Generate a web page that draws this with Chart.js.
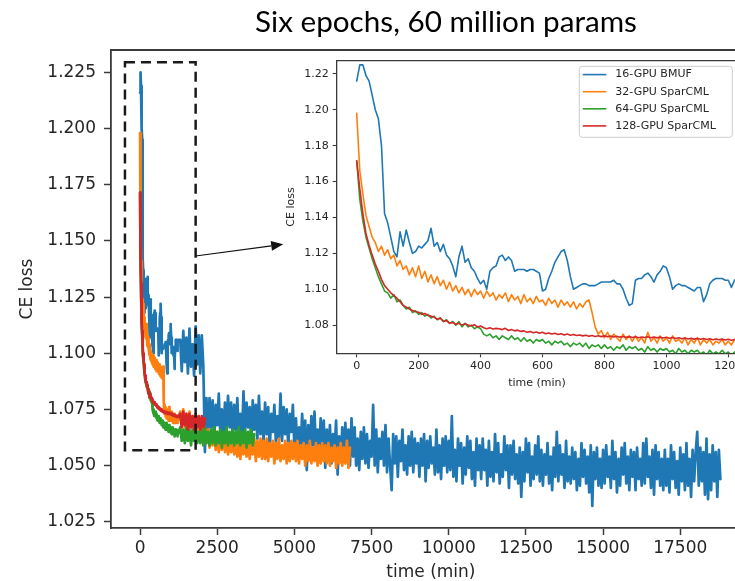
<!DOCTYPE html>
<html><head><meta charset="utf-8">
<script src="https://cdn.jsdelivr.net/npm/chart.js@4.4.1/dist/chart.umd.min.js"></script>
<style>
html,body{margin:0;padding:0;background:#fff;overflow:hidden;width:735px;height:581px;}
#main{position:absolute;left:0;top:0;}
#inset{position:absolute;left:280px;top:50px;}
</style></head><body>
<canvas id="main" width="780" height="581" style="width:780px;height:581px"></canvas>
<canvas id="inset" width="470" height="350" style="width:470px;height:350px"></canvas>
<script>
// ---------------- data ----------------
const titleText = 'Six epochs, 60 million params';
const seriesNames = ['16-GPU BMUF', '32-GPU SparCML', '64-GPU SparCML', '128-GPU SparCML'];
const seriesColors = ['#1f77b4', '#ff7f0e', '#2ca02c', '#d62728'];

// 16-GPU BMUF: t = 0,10,...,1230 min
const blueEarly = [
1.216,1.225,1.225,1.219,1.216,1.208,1.200,1.195,1.180,1.142,
1.137,1.129,1.121,1.118,1.132,1.124,1.133,1.126,1.120,1.121,
1.124,1.123,1.125,1.127,1.134,1.124,1.126,1.121,1.125,1.119,
1.117,1.113,1.107,1.118,1.124,1.115,1.117,1.112,1.110,1.106,
1.103,1.105,1.100,1.110,1.112,1.113,1.118,1.119,1.116,1.118,
1.116,1.110,1.111,1.111,1.111,1.110,1.111,1.111,1.110,1.109,
1.099,1.100,1.106,1.110,1.115,1.118,1.121,1.122,1.116,1.107,
1.100,1.101,1.102,1.103,1.103,1.102,1.102,1.102,1.103,1.104,
1.104,1.104,1.104,1.105,1.103,1.103,1.100,1.095,1.091,1.092,
1.105,1.106,1.106,1.108,1.109,1.107,1.104,1.108,1.110,1.113,
1.112,1.107,1.100,1.102,1.103,1.102,1.102,1.101,1.100,1.099,
1.101,1.101,1.093,1.097,1.103,1.105,1.106,1.106,1.106,1.105,
1.105,1.101,1.105,1.106
];
// 16-GPU BMUF: t = 1300,1350,...,18800 min
const blueLate = [
1.106,1.092,1.110,1.096,1.107,1.091,1.111,1.094,1.104,1.090,1.112,1.095,1.108,1.091,
1.108,1.094,1.056,1.080,1.064,1.080,1.067,1.079,1.061,1.077,1.068,1.082,1.063,1.075,1.062,1.078,1.066,1.081,1.067,1.078,
1.062,1.077,1.066,1.080,1.063,1.073,1.061,1.083,1.065,1.078,1.067,1.076,1.060,1.079,1.066,1.077,1.062,1.081,1.064,1.074,
1.061,1.078,1.064,1.076,1.057,1.073,1.065,1.077,1.060,1.072,1.062,1.082,1.061,1.076,1.064,1.075,1.058,1.073,1.065,1.077,
1.057,1.071,1.054,1.067,1.056,1.073,1.060,1.070,1.048,1.068,1.055,1.072,1.059,1.074,1.056,1.066,1.053,1.071,1.058,1.070,
1.049,1.066,1.055,1.068,1.051,1.064,1.056,1.070,1.046,1.063,1.052,1.067,1.054,1.069,1.055,1.066,1.050,1.071,1.054,1.067,
1.050,1.062,1.048,1.065,1.053,1.067,1.051,1.064,1.049,1.061,1.054,1.077,1.050,1.066,1.047,1.062,1.053,1.065,1.050,1.068,
1.047,1.062,1.050,1.039,1.064,1.051,1.063,1.045,1.061,1.052,1.066,1.048,1.059,1.046,1.063,1.050,1.065,1.047,1.062,1.051,
1.060,1.045,1.062,1.050,1.064,1.043,1.061,1.049,1.063,1.051,1.058,1.046,1.066,1.047,1.059,1.044,1.062,1.050,1.063,1.047,
1.061,1.048,1.072,1.045,1.057,1.043,1.062,1.050,1.060,1.042,1.058,1.046,1.063,1.049,1.061,1.044,1.056,1.041,1.062,1.048,
1.059,1.044,1.062,1.048,1.057,1.041,1.061,1.045,1.056,1.043,1.064,1.047,1.060,1.042,1.055,1.045,1.063,1.048,1.059,1.040,
1.059,1.046,1.061,1.044,1.055,1.042,1.058,1.036,1.056,1.043,1.062,1.047,1.060,1.041,1.054,1.044,1.059,1.046,1.063,1.043,
1.057,1.041,1.055,1.046,1.060,1.042,1.054,1.039,1.058,1.045,1.065,1.043,1.059,1.046,1.055,1.040,1.061,1.043,1.054,1.042,
1.058,1.044,1.056,1.039,1.053,1.041,1.060,1.045,1.057,1.042,1.054,1.038,1.059,1.032,1.056,1.044,1.058,1.041,1.053,1.040,
1.057,1.042,1.059,1.045,1.054,1.040,1.061,1.044,1.056,1.038,1.053,1.041,1.058,1.046,1.060,1.042,1.054,1.039,1.057,1.045,
1.056,1.039,1.058,1.044,1.053,1.041,1.060,1.042,1.062,1.045,1.054,1.040,1.057,1.037,1.059,1.044,1.056,1.041,1.053,1.039,
1.057,1.041,1.053,1.038,1.059,1.044,1.056,1.040,1.052,1.037,1.058,1.043,1.055,1.039,1.060,1.041,1.053,1.036,1.057,1.043,
1.056,1.065,1.041,1.058,1.043,1.056,1.037,1.062,1.035,1.055,1.039,1.059,1.043,1.056,1.036,1.057,1.044
];
// 32-GPU SparCML: t = 0,10,...,1230 min
const orangeEarly = [
1.198,1.166,1.153,1.141,1.135,1.129,1.126,1.121,1.124,1.119,
1.122,1.117,1.119,1.113,1.116,1.111,1.113,1.108,1.112,1.107,
1.113,1.106,1.110,1.104,1.108,1.103,1.107,1.102,1.105,1.100,
1.104,1.099,1.102,1.098,1.101,1.097,1.100,1.096,1.100,1.097,
1.099,1.095,1.099,1.096,1.098,1.094,1.097,1.095,1.098,1.093,
1.097,1.094,1.096,1.092,1.097,1.093,1.095,1.092,1.096,1.093,
1.094,1.091,1.095,1.092,1.094,1.090,1.094,1.091,1.093,1.090,
1.093,1.089,1.092,1.090,1.093,1.094,1.087,1.079,1.075,1.077,
1.073,1.076,1.072,1.075,1.073,1.071,1.075,1.072,1.074,1.071,
1.074,1.071,1.073,1.070,1.076,1.071,1.073,1.070,1.074,1.071,
1.073,1.070,1.074,1.071,1.072,1.070,1.073,1.069,1.072,1.070,
1.073,1.069,1.072,1.070,1.072,1.069,1.071,1.070,1.072,1.069,
1.071,1.069,1.072,1.070
];
// 32-GPU SparCML: t = 1300,1350,...,6800 min
const orangeLate = [
1.074,1.068,1.075,1.067,1.073,1.066,1.074,1.067,1.072,1.065,1.071,1.064,1.070,1.063,
1.068,1.061,1.067,1.060,1.066,1.058,1.065,1.059,1.064,1.057,1.065,1.056,1.064,1.057,1.063,1.056,1.064,1.055,1.063,1.056,
1.062,1.055,1.063,1.054,1.061,1.053,1.062,1.055,1.061,1.054,1.063,1.053,1.061,1.055,1.062,1.052,1.061,1.054,1.062,1.053,
1.061,1.053,1.062,1.052,1.060,1.054,1.061,1.051,1.060,1.053,1.062,1.052,1.059,1.053,1.061,1.051,1.060,1.052,1.061,1.053,
1.060,1.052,1.061,1.051,1.059,1.053,1.060,1.050,1.059,1.052,1.061,1.051,1.058,1.052,1.060,1.050,1.059,1.051,1.060,1.052,
1.059,1.051,1.060,1.050,1.058,1.052,1.059,1.049,1.058,1.051,1.060,1.050,1.058,1.051,1.061,1.049,1.058
];
// 64-GPU SparCML: t = 0,10,...,1230 min
const greenEarly = [
1.1715,1.150,1.138,1.129,1.123,1.117,1.112,1.107,1.103,1.099,
1.098,1.095,1.097,1.093,1.094,1.091,1.089,1.090,1.087,1.088,
1.086,1.087,1.085,1.086,1.084,1.085,1.083,1.084,1.082,1.083,
1.081,1.082,1.080,1.082,1.079,1.081,1.079,1.080,1.078,1.079,
1.078,1.075,1.074,1.075,1.073,1.074,1.072,1.074,1.073,1.072,
1.074,1.072,1.073,1.071,1.073,1.071,1.072,1.070,1.072,1.071,
1.072,1.070,1.071,1.069,1.071,1.070,1.071,1.069,1.070,1.068,
1.070,1.069,1.070,1.068,1.070,1.067,1.069,1.068,1.069,1.067,
1.069,1.067,1.068,1.066,1.068,1.067,1.069,1.066,1.068,1.067,
1.068,1.066,1.067,1.065,1.068,1.066,1.067,1.065,1.067,1.066,
1.067,1.065,1.066,1.064,1.067,1.065,1.066,1.064,1.066,1.065,
1.066,1.064,1.065,1.063,1.066,1.064,1.065,1.064,1.066,1.064,
1.065,1.063,1.065,1.064
];
// 64-GPU SparCML: t = 1300,1350,...,3700 min
const greenLate = [
1.067,1.061,1.066,1.060,1.067,1.061,1.066,1.059,1.066,1.061,1.067,1.060,1.065,1.060,
1.066,1.059,1.067,1.060,1.065,1.059,1.066,1.060,1.067,1.059,1.065,1.060,1.066,1.058,1.065,1.060,1.067,1.059,1.065,1.060,
1.066,1.059,1.065,1.060,1.067,1.059,1.065,1.060,1.066,1.058,1.065,1.060,1.066,1.059,1.064
];
// 128-GPU SparCML: t = 0,10,...,1230 min
const redEarly = [
1.1715,1.156,1.142,1.131,1.1245,1.119,1.114,1.110,1.1055,1.102,
1.100,1.098,1.0965,1.095,1.093,1.091,1.090,1.089,1.0882,1.0875,
1.0872,1.086,1.0865,1.0854,1.085,1.0845,1.0832,1.084,1.082,1.0825,
1.081,1.0815,1.0805,1.081,1.080,1.0808,1.080,1.0795,1.0802,1.079,
1.0795,1.0785,1.078,1.0785,1.0778,1.0782,1.078,1.0775,1.0782,1.077,
1.0775,1.0768,1.0772,1.0765,1.0768,1.076,1.0765,1.0758,1.0762,1.0755,
1.076,1.0752,1.0756,1.075,1.0755,1.0748,1.0752,1.0745,1.075,1.0744,
1.0748,1.0742,1.0745,1.074,1.0744,1.0738,1.0742,1.0737,1.0741,1.0736,
1.074,1.0735,1.0739,1.0734,1.0738,1.0733,1.0737,1.0732,1.0736,1.0731,
1.0735,1.073,1.0734,1.0731,1.0735,1.073,1.0734,1.0729,1.0733,1.0728,
1.0732,1.0727,1.0731,1.0726,1.073,1.0724,1.0728,1.0723,1.0727,1.0722,
1.0726,1.0721,1.0725,1.072,1.0724,1.0719,1.0723,1.0718,1.0722,1.0717,
1.0721,1.0716,1.072,1.0717
];
// 128-GPU SparCML: t = 1300,1350,...,2100 min
const redLate = [1.073,1.067,1.074,1.068,1.073,1.066,1.073,1.067,1.072,1.066,1.073,1.067,1.072,1.066,1.072,1.067,1.071];

// sampling grid of each logged segment: [start time, interval]
const earlyGrid = [0, 10];
const lateGrid = [1300, 50];

// axes
const mainXTicks = [0, 2500, 5000, 7500, 10000, 12500, 15000, 17500];
const mainYTicks = [1.025, 1.050, 1.075, 1.100, 1.125, 1.150, 1.175, 1.200, 1.225];
const mainXRange = [-942, 19785];
const mainYRange = [1.0222, 1.2350];
const insetXTicks = [0, 200, 400, 600, 800, 1000, 1200];
const insetYTicks = [1.08, 1.10, 1.12, 1.14, 1.16, 1.18, 1.20, 1.22];
const insetXRange = [-64.6, 1229];
const insetYRange = [1.0643, 1.2274];

// annotations (data units of the main axes)
const zoomBox = [-490, 1800, 1.0568, 1.2295];   // x0, x1, y0, y1
const arrowFrom = [1800, 1.1433];
const arrowTo = [4637, 1.1485];

// ---------------- build ----------------
function toPoints(early, late) {
  const pts = [];
  early.forEach((v, i) => pts.push({ x: earlyGrid[0] + i * earlyGrid[1], y: v }));
  late.forEach((v, i) => pts.push({ x: lateGrid[0] + i * lateGrid[1], y: v }));
  return pts;
}
const seriesPoints = [
  toPoints(blueEarly, blueLate),
  toPoints(orangeEarly, orangeLate),
  toPoints(greenEarly, greenLate),
  toPoints(redEarly, redLate)
];

Chart.defaults.font.family = "'DejaVu Sans', sans-serif";
Chart.defaults.color = '#262626';
const AX = '#3a3a3a';
const TXT = '#262626';

function datasets(width) {
  return seriesPoints.map((pts, i) => ({
    label: seriesNames[i], data: pts, borderColor: seriesColors[i], backgroundColor: seriesColors[i],
    borderWidth: width, pointRadius: 0, tension: 0, fill: false, order: 4 - i,
    borderJoinStyle: 'round', borderCapStyle: 'round'
  }));
}

function scale(range, ticks, fmt, o) {
  return {
    type: 'linear', min: range[0], max: range[1],
    afterBuildTicks: s => { s.ticks = ticks.map(v => ({ value: v })); },
    afterFit: o.fit,
    ticks: { font: { size: o.fs }, color: TXT, padding: o.pad, maxRotation: 0, autoSkip: false, callback: fmt },
    grid: { display: true, drawOnChartArea: false, drawTicks: true, tickLength: o.tl, tickWidth: o.tw, tickColor: AX },
    border: { display: true, color: AX, width: o.bw },
    title: { display: true, text: o.title, font: { size: o.fs, lineHeight: o.tlh }, color: TXT, padding: o.tpad }
  };
}

const mainDecor = {
  id: 'mainDecor',
  afterDraw(chart) {
    const { ctx, chartArea: a, scales: { x, y } } = chart;
    ctx.save();
    ctx.strokeStyle = AX; ctx.lineWidth = 1.8;
    ctx.beginPath(); ctx.moveTo(a.left, a.top); ctx.lineTo(a.right, a.top); ctx.lineTo(a.right, a.bottom); ctx.stroke();
    const bx0 = x.getPixelForValue(zoomBox[0]), bx1 = x.getPixelForValue(zoomBox[1]);
    const by0 = y.getPixelForValue(zoomBox[2]), by1 = y.getPixelForValue(zoomBox[3]);
    ctx.strokeStyle = '#1a1a1a'; ctx.lineWidth = 2.5; ctx.setLineDash([10, 6]);
    ctx.strokeRect(bx0, by1, bx1 - bx0, by0 - by1);
    ctx.setLineDash([]);
    const ax0 = x.getPixelForValue(arrowFrom[0]), ay0 = y.getPixelForValue(arrowFrom[1]);
    const ax1 = x.getPixelForValue(arrowTo[0]), ay1 = y.getPixelForValue(arrowTo[1]);
    const ang = Math.atan2(ay1 - ay0, ax1 - ax0), hl = 12, hw = 5;
    const bxp = ax1 - hl * Math.cos(ang), byp = ay1 - hl * Math.sin(ang);
    ctx.strokeStyle = '#111'; ctx.fillStyle = '#111'; ctx.lineWidth = 1.2;
    ctx.beginPath(); ctx.moveTo(ax0, ay0); ctx.lineTo(bxp, byp); ctx.stroke();
    ctx.beginPath(); ctx.moveTo(ax1, ay1);
    ctx.lineTo(bxp + hw * Math.sin(ang), byp - hw * Math.cos(ang));
    ctx.lineTo(bxp - hw * Math.sin(ang), byp + hw * Math.cos(ang));
    ctx.closePath(); ctx.fill();
    const fam = "Lato, 'Open Sans', sans-serif";
    ctx.font = `28px ${fam}`;
    const w = ctx.measureText(titleText).width;
    const fs = 28 * 382 / w;
    ctx.font = `${fs}px ${fam}`;
    ctx.fillStyle = '#000'; ctx.textAlign = 'center'; ctx.textBaseline = 'alphabetic';
    ctx.fillText(titleText, 446, 32);
    ctx.restore();
  }
};

const insetDecor = {
  id: 'insetDecor',
  afterDraw(chart) {
    const { ctx, chartArea: a } = chart;
    ctx.save();
    ctx.strokeStyle = AX; ctx.lineWidth = 1.3;
    ctx.beginPath(); ctx.moveTo(a.left, a.top); ctx.lineTo(a.right, a.top); ctx.lineTo(a.right, a.bottom); ctx.stroke();
    const bw = 153, bh = 71, right = a.right - 5, top = a.top + 5.7, left = right - bw;
    ctx.fillStyle = 'rgba(255,255,255,0.85)'; ctx.strokeStyle = '#cccccc'; ctx.lineWidth = 1;
    ctx.beginPath(); ctx.roundRect(left, top, bw, bh, 3); ctx.fill(); ctx.stroke();
    ctx.font = "11px 'DejaVu Sans'"; ctx.textBaseline = 'middle'; ctx.textAlign = 'left';
    chart.data.datasets.forEach((d, i) => {
      const yy = top + 8.3 + i * 17.1;
      ctx.strokeStyle = d.borderColor; ctx.lineWidth = 1.6;
      ctx.beginPath(); ctx.moveTo(left + 3.5, yy); ctx.lineTo(left + 27, yy); ctx.stroke();
      ctx.fillStyle = TXT; ctx.fillText(d.label, left + 36, yy);
    });
    ctx.restore();
  }
};

new Chart(document.getElementById('main'), {
  type: 'line',
  data: { datasets: datasets(2.7) },
  options: {
    responsive: false, animation: false, devicePixelRatio: 1,
    layout: { padding: { top: 50, right: 780 - 750.8, left: 0, bottom: 0 } },
    plugins: { legend: { display: false }, tooltip: { enabled: false } },
    scales: {
      x: scale(mainXRange, mainXTicks, v => String(v),
        { fit: s => { s.height = 53; }, fs: 17, pad: 3, tl: 7, tw: 1.5, bw: 1.8, title: 'time (min)', tlh: 1.0, tpad: { top: 0, bottom: 0 } }),
      y: scale(mainYRange, mainYTicks, v => v.toFixed(3),
        { fit: s => { s.width = 111; }, fs: 17, pad: 8, tl: 7, tw: 1.5, bw: 1.8, title: 'CE loss', tlh: 1.2, tpad: { top: 17, bottom: 0 } })
    }
  },
  plugins: [mainDecor]
});

new Chart(document.getElementById('inset'), {
  type: 'line',
  data: { datasets: datasets(1.6) },
  options: {
    responsive: false, animation: false, devicePixelRatio: 1,
    layout: { padding: { top: 9.3, right: 470 - 457.3, left: 0, bottom: 0 } },
    plugins: { legend: { display: false }, tooltip: { enabled: false } },
    scales: {
      x: scale(insetXRange, insetXTicks, v => String(v),
        { fit: s => { s.height = 46.7; }, fs: 11, pad: 2, tl: 4, tw: 1.1, bw: 1.3, title: 'time (min)', tlh: 1.2, tpad: { top: 0, bottom: 10.5 } }),
      y: scale(insetYRange, insetYTicks, v => v.toFixed(2),
        { fit: s => { s.width = 56.7; }, fs: 11, pad: 4, tl: 4, tw: 1.1, bw: 1.3, title: 'CE loss', tlh: 1.2, tpad: { top: 5, bottom: 0 } })
    }
  },
  plugins: [insetDecor]
});
</script></body></html>
